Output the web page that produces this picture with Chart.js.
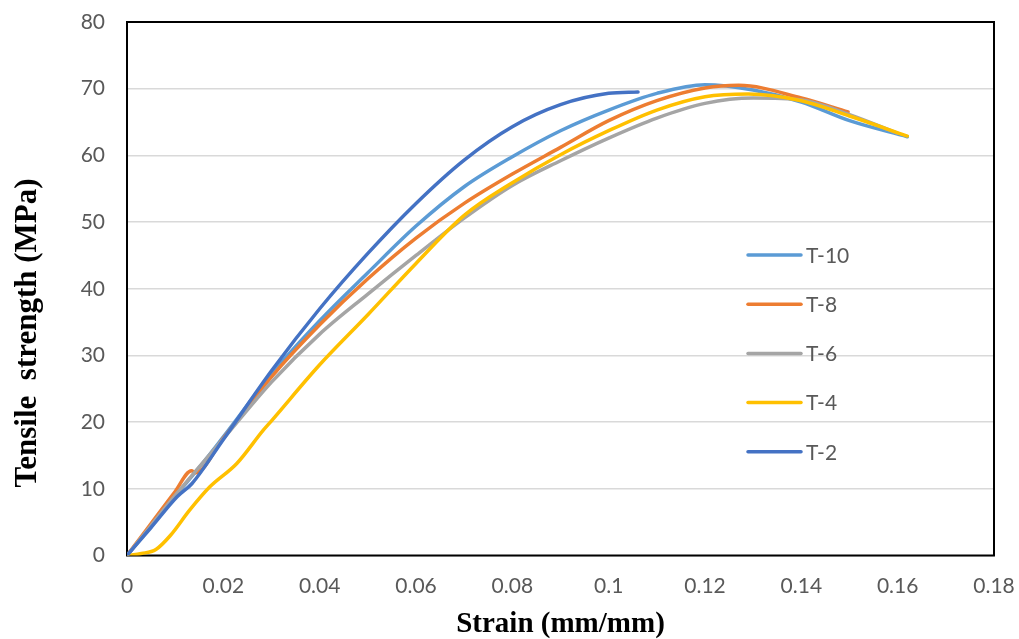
<!DOCTYPE html>
<html>
<head>
<meta charset="utf-8">
<script src="https://cdn.jsdelivr.net/npm/chart.js@4.4.0/dist/chart.umd.min.js"></script>
<style>
  body { margin: 0; background: #fff; }
  #chart { display: block; }
</style>
</head>
<body>
<canvas id="chart" width="1019" height="639"></canvas>
<script>
// series names in legend order
const seriesNames = ['T-10', 'T-8', 'T-6', 'T-4', 'T-2'];
const seriesColors = ['#5B9BD5', '#ED7D31', '#A5A5A5', '#FFC000', '#4472C4'];

// strain (mm/mm) / stress (MPa)
const t10Strain = [0, 0.005, 0.01, 0.015, 0.02, 0.03, 0.04, 0.05, 0.06, 0.07, 0.08, 0.09, 0.1, 0.11, 0.12, 0.13, 0.14, 0.15, 0.162];
const t10Stress = [0, 4.4, 8.9, 13.2, 17.8, 27.2, 35.2, 42.4, 49.4, 55.3, 59.8, 63.7, 66.8, 69.3, 70.6, 69.8, 68, 65.2, 62.8];

const t8Strain = [0, 0.005, 0.01, 0.0134, 0.0142, 0.02, 0.03, 0.04, 0.05, 0.06, 0.07, 0.08, 0.09, 0.1, 0.11, 0.12, 0.127, 0.14, 0.1497];
const t8Stress = [0, 4.8, 9.6, 12.7, 12.4, 17.6, 26.8, 34.6, 41.5, 47.6, 52.8, 57.2, 61.2, 65.2, 68.2, 70.1, 70.5, 68.6, 66.5];

const t6Strain = [0, 0.005, 0.01, 0.015, 0.02, 0.03, 0.04, 0.05, 0.06, 0.07, 0.08, 0.09, 0.1, 0.11, 0.12, 0.13, 0.14, 0.15, 0.16];
const t6Stress = [0, 4.5, 9, 13.3, 17.5, 26, 33.2, 39.2, 45, 50.6, 55.5, 59.2, 62.6, 65.6, 67.8, 68.6, 68.3, 66.1, 63.3];

const t4Strain = [0, 0.003, 0.006, 0.009, 0.013, 0.0172, 0.0228, 0.0283, 0.03, 0.04, 0.05, 0.06, 0.07, 0.08, 0.09, 0.1, 0.11, 0.12, 0.129, 0.14, 0.15, 0.162];
const t4Stress = [0, 0.3, 0.9, 3, 6.8, 10.3, 13.8, 18.8, 20.2, 28.6, 36.1, 43.8, 51.0, 55.9, 60.1, 63.7, 66.8, 68.8, 69.2, 68.2, 65.9, 62.9];

const t2Strain = [0, 0.005, 0.0104, 0.0135, 0.02, 0.03, 0.04, 0.05, 0.06, 0.07, 0.08, 0.09, 0.1, 0.1061];
const t2Stress = [0, 4.2, 8.8, 10.8, 17.4, 27.7, 37, 45.3, 52.8, 59.3, 64.3, 67.6, 69.3, 69.5];

// axis ranges / ticks
const xMin = 0, xMax = 0.18, xStep = 0.02;
const yMin = 0, yMax = 80, yStep = 10;
const yTitle = 'Tensile  strength (MPa)';

const allStrain = [t10Strain, t8Strain, t6Strain, t4Strain, t2Strain];
const allStress = [t10Stress, t8Stress, t6Stress, t4Stress, t2Stress];

function toPoints(xs, ys) {
  return xs.map((x, i) => ({ x: x, y: ys[i] }));
}

const datasets = seriesNames.map((name, i) => ({
  label: name,
  data: toPoints(allStrain[i], allStress[i]),
  borderColor: seriesColors[i],
  backgroundColor: seriesColors[i],
  borderWidth: 3.5,
  pointRadius: 0,
  fill: false,
  cubicInterpolationMode: 'monotone',
  borderCapStyle: 'round',
  borderJoinStyle: 'round',
  order: seriesNames.length - i  // last series on top, like excel
}));

// black frame round the plot area
const frame = {
  id: 'frame',
  beforeDatasetsDraw(chart) {
    const a = chart.chartArea, ctx = chart.ctx;
    ctx.save();
    ctx.strokeStyle = '#000';
    ctx.lineWidth = 2;
    ctx.strokeRect(a.left, a.top, a.right - a.left, a.bottom - a.top);
    ctx.restore();
  }
};

// y title sits a bit low in the original, so draw it by hand
const sideTitle = {
  id: 'sideTitle',
  afterDraw(chart) {
    const ctx = chart.ctx;
    ctx.save();
    ctx.translate(28, 333);
    ctx.rotate(-Math.PI / 2);
    ctx.font = 'bold 31px "Liberation Serif"';
    ctx.fillStyle = '#000';
    ctx.textAlign = 'center';
    ctx.textBaseline = 'middle';
    ctx.fillText(yTitle, 0, 0);
    ctx.restore();
  }
};

// legend sitting inside the plot, like the original
const insideLegend = {
  id: 'insideLegend',
  afterDraw(chart) {
    const ctx = chart.ctx;
    ctx.save();
    ctx.font = '21px Lato';
    ctx.textBaseline = 'middle';
    ctx.textAlign = 'left';
    chart.data.datasets.forEach((ds, i) => {
      const y = 255 + i * 49.2;
      ctx.strokeStyle = ds.borderColor;
      ctx.lineWidth = 3.5;
      ctx.lineCap = 'round';
      ctx.beginPath();
      ctx.moveTo(748, y);
      ctx.lineTo(801, y);
      ctx.stroke();
      ctx.fillStyle = '#595959';
      ctx.fillText(ds.label, 806, y + 1);
    });
    ctx.restore();
  }
};

new Chart(document.getElementById('chart').getContext('2d'), {
  type: 'line',
  data: { datasets: datasets },
  options: {
    responsive: false,
    animation: false,
    devicePixelRatio: 1,
    layout: { padding: { top: 22, right: 25, left: 0, bottom: 0 } },
    plugins: {
      legend: { display: false },
      tooltip: { enabled: false }
    },
    scales: {
      x: {
        type: 'linear',
        min: xMin,
        max: xMax,
        grid: { display: false, drawTicks: false },
        border: { display: false },
        ticks: {
          stepSize: xStep,
          padding: 18,
          color: '#595959',
          font: { family: 'Lato', size: 21 },
          callback: v => String(+v.toFixed(2))
        },
        title: {
          display: true,
          text: 'Strain (mm/mm)',
          color: '#000',
          font: { family: 'Liberation Serif', size: 29, weight: 'bold', lineHeight: 1 },
          padding: { top: 0, bottom: 0 }
        },
        afterFit(scale) {
          scale.height = 83.5;
          scale.paddingLeft = 0;
          scale.paddingRight = 0;
        }
      },
      y: {
        min: yMin,
        max: yMax,
        grid: { color: '#D9D9D9', lineWidth: 1.5, drawTicks: false },
        border: { display: false },
        ticks: {
          stepSize: yStep,
          padding: 22,
          color: '#595959',
          font: { family: 'Lato', size: 21 }
        },
        afterFit(scale) {
          scale.width = 127;
          scale.paddingTop = 0;
          scale.paddingBottom = 0;
        }
      }
    }
  },
  plugins: [frame, sideTitle, insideLegend]
});
</script>
</body>
</html>
